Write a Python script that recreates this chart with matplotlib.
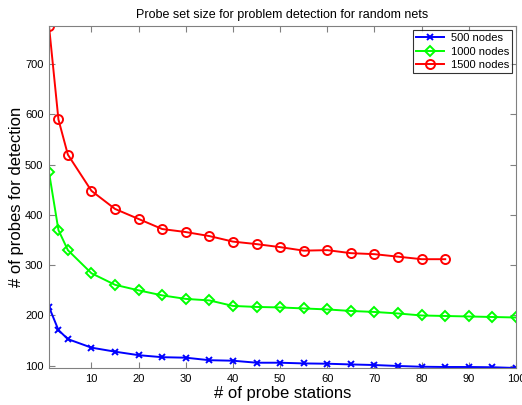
import matplotlib
matplotlib.use("Agg")
import matplotlib.pyplot as plt

x_all = [1, 3, 5, 10, 15, 20, 25, 30, 35, 40, 45, 50, 55, 60, 65, 70, 75, 80, 85, 90, 95, 100]
x_red = x_all[:19]

nodes500 = [217, 171, 153, 136, 128, 121, 117, 116, 111, 110, 106, 106, 104.6, 104, 102.6, 101.4, 99.5, 98, 97.5, 97.5, 97, 95.5]
nodes1000 = [485, 370, 330, 284, 261, 250, 240, 233, 230, 219, 217, 216, 214, 212, 209, 207, 204, 200, 199, 198, 197, 196]
nodes1500 = [776, 590, 520, 448, 412, 392, 372, 366, 358, 347, 342, 336, 329, 330, 324, 322, 317, 312, 312]

xticks = [10, 20, 30, 40, 50, 60, 70, 80, 90, 100]
yticks = [100, 200, 300, 400, 500, 600, 700]

plt.rcParams['font.family'] = ['Liberation Sans', 'DejaVu Sans']

fig = plt.figure(figsize=(5.22, 4.05), dpi=100)
ax = fig.add_axes([49/522, 1 - 368/405, (516-49)/522, (368-26)/405])

ax.plot(x_all, nodes500, color='#0000ff', marker='x', lw=1.4, ms=4.5, mew=1.4, label='500 nodes')
ax.plot(x_all, nodes1000, color='#00ff00', marker='D', mfc='none', lw=1.4, ms=5, mew=1.4, label='1000 nodes')
ax.plot(x_red, nodes1500, color='#ff0000', marker='o', mfc='none', lw=1.4, ms=6.5, mew=1.4, label='1500 nodes')

ax.set_xlim(1, 100)
ax.set_ylim(95.5, 776)
ax.set_xticks(xticks)
ax.set_yticks(yticks)
ax.tick_params(direction='in', top=True, right=True, labelsize=8, length=4, color='#808080', pad=4)
for s in ax.spines.values():
    s.set_color('#808080')

ax.set_title('Probe set size for problem detection for random nets', fontsize=9, pad=6)
ax.set_xlabel('# of probe stations', fontsize=12, labelpad=2)
ax.set_ylabel('# of probes for detection', fontsize=12, labelpad=1)

leg = ax.legend(loc='upper right', fontsize=8, frameon=True, fancybox=False,
                edgecolor='black', borderpad=0.25, labelspacing=0.3, handlelength=2.5,
                handletextpad=0.6, borderaxespad=0.4)
leg.get_frame().set_linewidth(0.8)

fig.savefig('out.png', dpi=100)
